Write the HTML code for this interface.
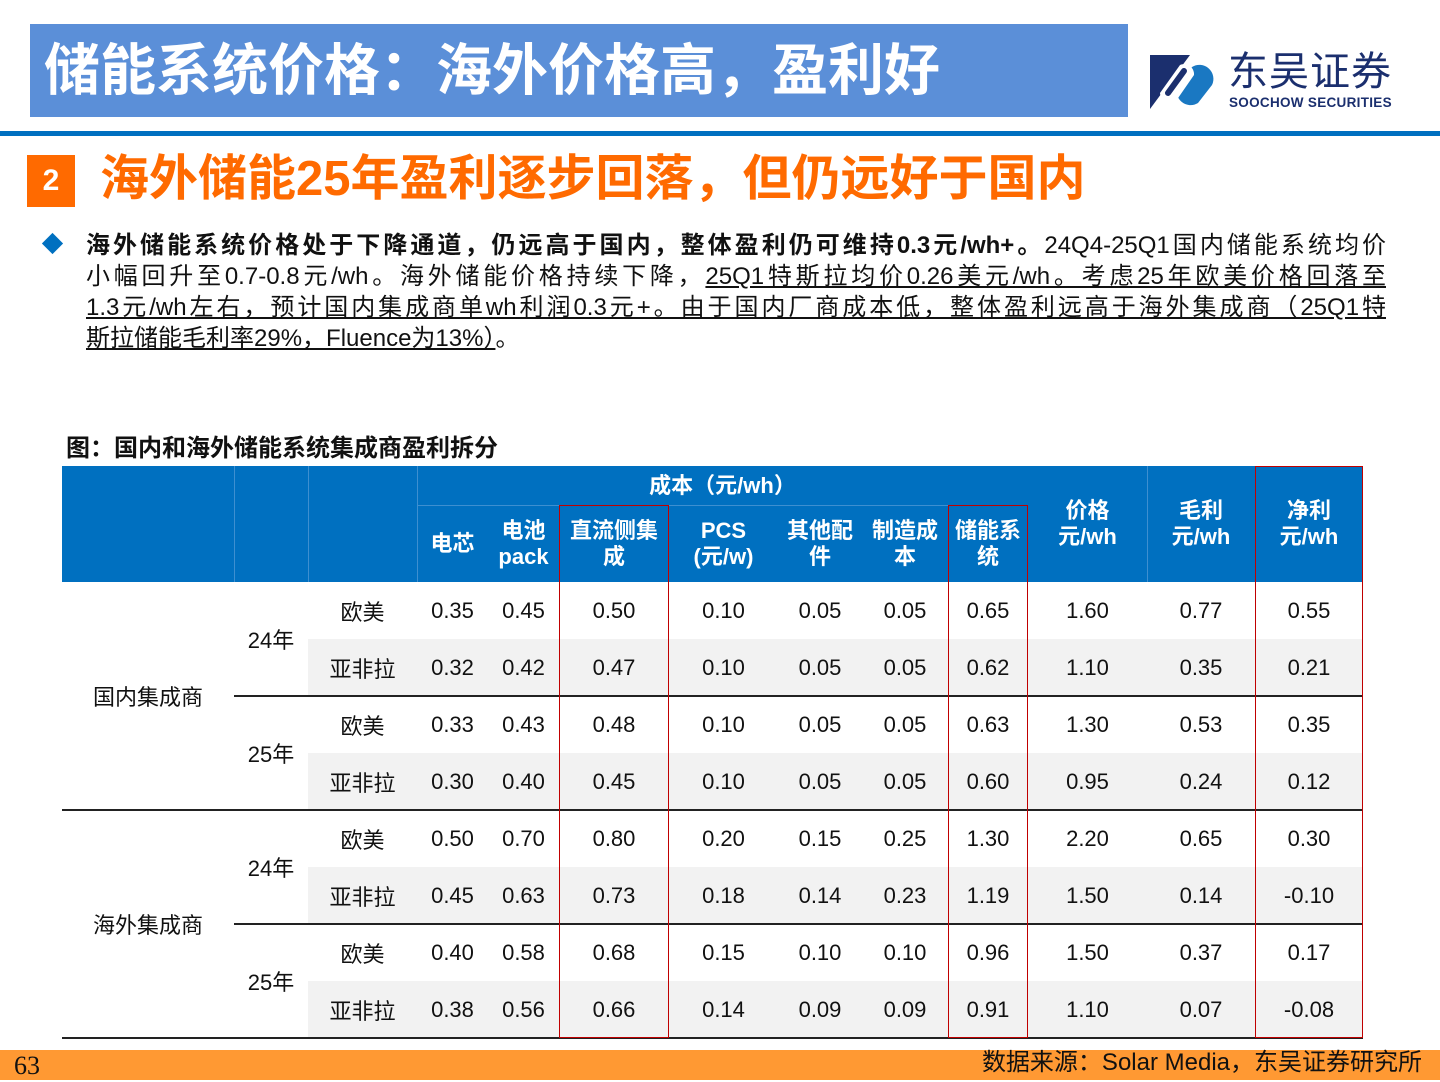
<!DOCTYPE html>
<html><head><meta charset="utf-8">
<style>
body{margin:0;width:1440px;height:1080px;position:relative;overflow:hidden;background:#fff;font-family:"Liberation Sans","Noto Sans CJK SC",sans-serif;}
.a{position:absolute;}
.ln{position:absolute;left:86px;width:1300px;font-size:24px;line-height:31px;white-space:nowrap;color:#111;text-align:justify;text-align-last:justify;}
.u{text-decoration:underline;}
.cell{position:absolute;display:flex;align-items:center;justify-content:center;text-align:center;font-size:22px;color:#111;}
.hd{color:#fff;font-weight:bold;font-size:22px;line-height:26px;}
</style></head><body>
<div class="a" style="left:30px;top:24px;width:1098px;height:93px;background:#5b8fd8;"></div>
<div class="a" style="left:44px;top:36px;font-size:56px;line-height:70px;font-weight:bold;color:#fff;">储能系统价格：海外价格高，盈利好</div>
<div class="a" style="left:1150px;top:55px;width:68px;height:54px;">
<svg width="68" height="54"><polygon points="0,0 40,0 0,54" fill="#1b2f6e"/><path d="M28,30 L42,12 A14,14 0 0 1 62,30 L48,48 A14,14 0 0 1 28,30Z" fill="#1a78c2"/><path d="M10,38 L30,10 A10,10 0 0 1 44,20 L26,46 A10,10 0 0 1 10,38Z" fill="#fff"/><path d="M18,38 L34,16" stroke="#1b2f6e" stroke-width="6" stroke-linecap="round"/></svg></div>
<div class="a" style="left:1228px;top:50px;font-size:40px;line-height:44px;color:#1b2f6e;letter-spacing:1px;">东吴证券</div>
<div class="a" style="left:1229px;top:95px;font-size:13.5px;font-weight:bold;color:#1b2f6e;letter-spacing:0.3px;">SOOCHOW SECURITIES</div>
<div class="a" style="left:0;top:131px;width:1440px;height:5px;background:#0070c0;"></div>
<div class="a" style="left:27px;top:155px;width:48px;height:52px;background:#ff6a00;color:#fff;font-weight:bold;font-size:30px;display:flex;align-items:center;justify-content:center;">2</div>
<div class="a" style="left:100px;top:146px;font-size:49px;line-height:66px;font-weight:bold;color:#ff6a00;">海外储能25年盈利逐步回落，但仍远好于国内</div>
<div class="a" style="left:45px;top:236px;width:15px;height:15px;background:#0070c0;transform:rotate(45deg);"></div>
<div class="ln" style="top:230px;"><b>海外储能系统价格处于下降通道，仍远高于国内，整体盈利仍可维持0.3元/wh+。</b>24Q4-25Q1国内储能系统均价</div>
<div class="ln" style="top:261px;">小幅回升至0.7-0.8元/wh。海外储能价格持续下降，<span class="u">25Q1特斯拉均价0.26美元/wh。考虑25年欧美价格回落至</span></div>
<div class="ln u" style="top:292px;">1.3元/wh左右，预计国内集成商单wh利润0.3元+。由于国内厂商成本低，整体盈利远高于海外集成商（25Q1特</div>
<div class="a" style="left:86px;top:323px;font-size:24px;line-height:31px;color:#111;"><span class="u">斯拉储能毛利率29%，Fluence为13%）</span>。</div>
<div class="a" style="left:66px;top:428px;font-size:24px;font-weight:bold;color:#111;">图：国内和海外储能系统集成商盈利拆分</div>
<div id="tbl"></div>
<div class="a" style="left:0;top:1050px;width:1440px;height:30px;background:#ff9933;"></div>
<div class="a" style="left:14px;top:1050px;font-size:26px;line-height:32px;font-family:'Liberation Serif',serif;color:#111;">63</div>
<div class="a" style="right:18px;top:1047px;font-size:24px;line-height:32px;color:#111;">数据来源：Solar Media，东吴证券研究所</div>
<script>
const colHeads=["电芯","电池<br>pack","直流侧集<br>成","PCS<br>(元/w)","其他配<br>件","制造成<br>本","储能系<br>统","价格<br>元/wh","毛利<br>元/wh","净利<br>元/wh"];
const groups=["国内集成商","海外集成商"];
const years=["24年","25年"];
const regions=["欧美","亚非拉"];
const row1=["0.35","0.45","0.50","0.10","0.05","0.05","0.65","1.60","0.77","0.55"];
const row2=["0.32","0.42","0.47","0.10","0.05","0.05","0.62","1.10","0.35","0.21"];
const row3=["0.33","0.43","0.48","0.10","0.05","0.05","0.63","1.30","0.53","0.35"];
const row4=["0.30","0.40","0.45","0.10","0.05","0.05","0.60","0.95","0.24","0.12"];
const row5=["0.50","0.70","0.80","0.20","0.15","0.25","1.30","2.20","0.65","0.30"];
const row6=["0.45","0.63","0.73","0.18","0.14","0.23","1.19","1.50","0.14","-0.10"];
const row7=["0.40","0.58","0.68","0.15","0.10","0.10","0.96","1.50","0.37","0.17"];
const row8=["0.38","0.56","0.66","0.14","0.09","0.09","0.91","1.10","0.07","-0.08"];
const rows=[row1,row2,row3,row4,row5,row6,row7,row8];
const xs=[62,234,308,417,488,559,669,778,862,948,1028,1147,1255,1363];
const T=document.getElementById('tbl');
function box(x,y,w,h,css,html,name){const d=document.createElement('div');d.className='cell';d.style.cssText=`left:${x}px;top:${y}px;width:${w}px;height:${h}px;`+css;if(html!==undefined)d.innerHTML=html;


T.appendChild(d);return d;}
const top0=466,hh=116,rh=57;
box(62,top0,1301,hh,'background:#0070c0;','','table-header-bg');
box(417,top0,611,39,'','<span class="hd">成本（元/wh）</span>','cost-group-header');
box(417,top0+39,611,1,'background:#3d8fd0;','','header-divider');
[234,308,417].forEach((x,i)=>box(x,top0,1,hh,'background:#3d8fd0;','','header-vline'));
[1147,1255].forEach(x=>box(x,top0,1,hh,'background:#3d8fd0;','','header-vline'));
colHeads.forEach((h,i)=>{const sub=i<7;box(xs[i+3],sub?top0+39:top0,xs[i+4]-xs[i+3],sub?hh-39:hh,'',`<span class="hd">${h}</span>`,'column-header');});
rows.forEach((r,ri)=>{const y=top0+hh+ri*rh;
 if(ri%2==1)box(308,y,1055,rh,'background:#f2f2f2;','','row-shade');
 box(308,y,109,rh,'',regions[ri%2],'region-label');
 r.forEach((v,ci)=>box(xs[ci+3],y,xs[ci+4]-xs[ci+3],rh,'',v,'value-cell'));
});
for(let g=0;g<2;g++){const y=top0+hh+g*4*rh;
 box(62,y,172,4*rh,'',groups[g],'group-label');
 for(let k=0;k<2;k++){box(234,y+k*2*rh,74,2*rh,'',years[k],'year-label');}
 box(234,y+2*rh-1,1129,1.5,'background:#222;','','year-divider');
 box(62,y+4*rh-1,1301,1.5,'background:#222;','','group-divider');
}
[[559,669,39],[948,1028,39],[1255,1363,0]].forEach(([a,b,o])=>{box(a,top0+o,b-a,hh+8*rh-o,'border:1.5px solid #c00000;box-sizing:border-box;background:transparent;','','highlight-column');});
</script>
</body></html>
